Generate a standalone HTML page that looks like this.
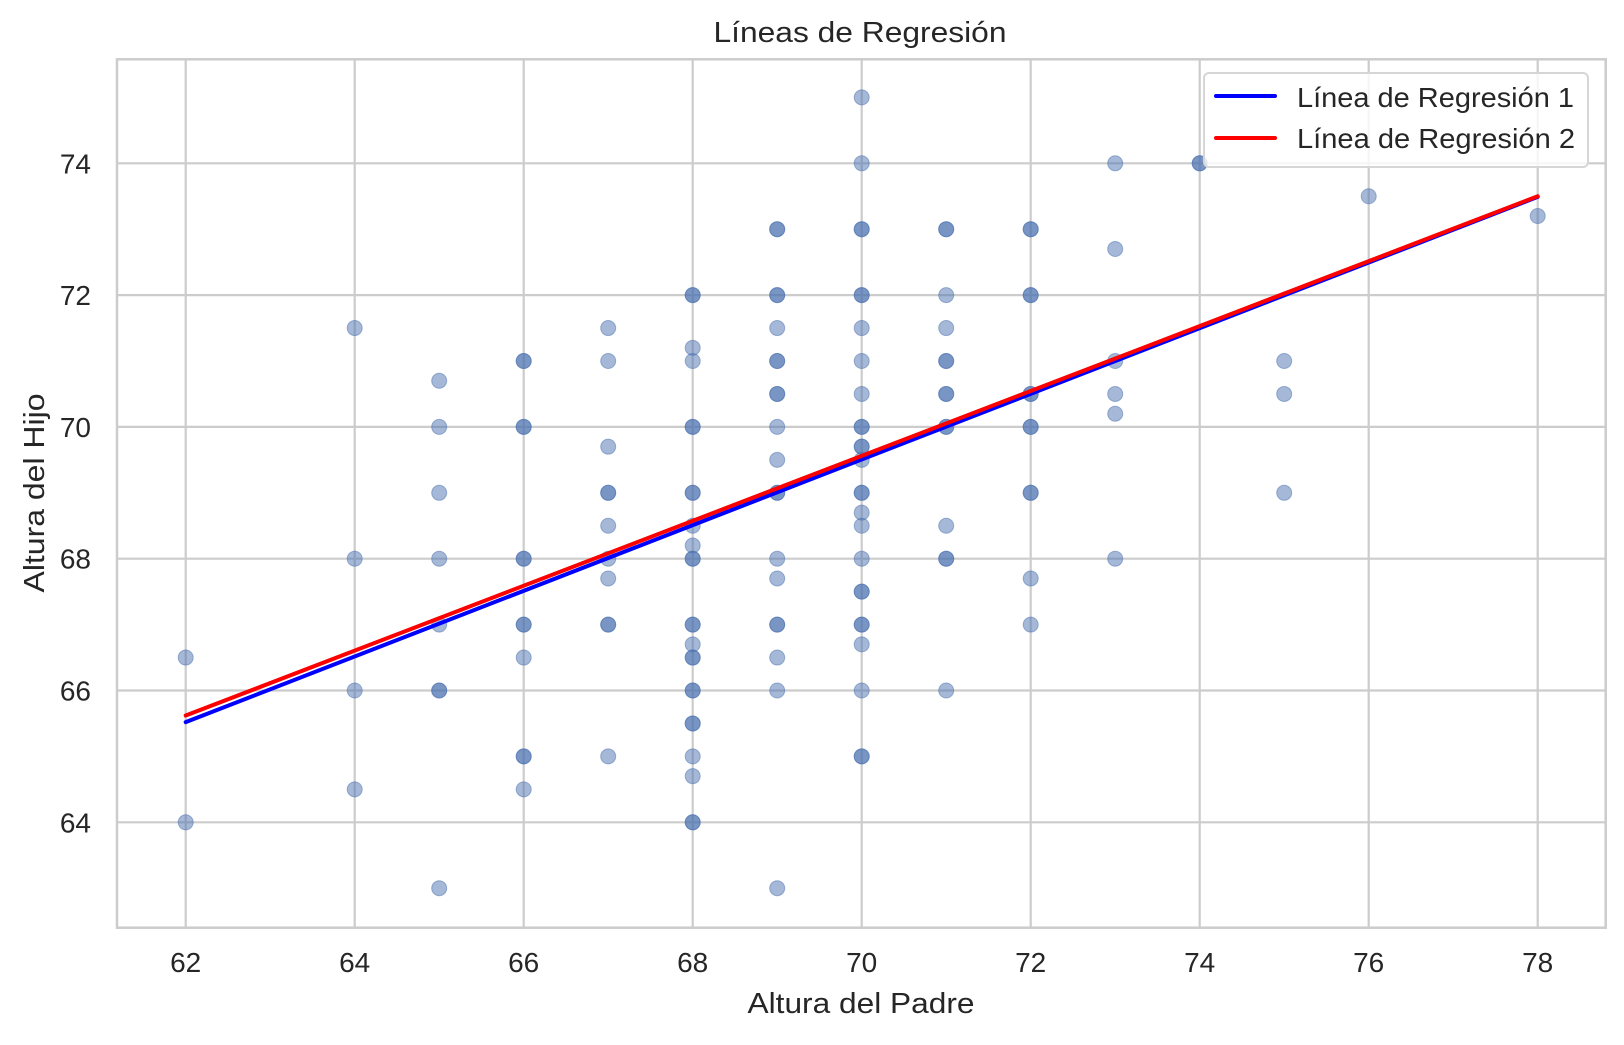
<!DOCTYPE html>
<html><head><meta charset="utf-8"><style>
body{margin:0;background:#fff;}
svg text{font-family:"Liberation Sans",sans-serif;fill:#262626;}
</style></head><body>
<svg id="chart" width="1624" height="1040" xmlns="http://www.w3.org/2000/svg">
<rect width="1624" height="1040" fill="#fff"/>
<g id="grid"></g>
<g id="points"></g>
<g id="lines"></g>
<rect x="117" y="59.3" width="1488.7" height="868.4" fill="none" stroke="#cccccc" stroke-width="2.5"/>
<g id="ticks"></g>
<text x="860" y="42" font-size="29" text-anchor="middle" textLength="293" lengthAdjust="spacingAndGlyphs">Líneas de Regresión</text>
<text x="861" y="1013" font-size="29" text-anchor="middle" textLength="227" lengthAdjust="spacingAndGlyphs">Altura del Padre</text>
<text transform="translate(44,493) rotate(-90)" font-size="29" text-anchor="middle" textLength="199" lengthAdjust="spacingAndGlyphs">Altura del Hijo</text>
<g>
<rect x="1204" y="73" width="384" height="94" rx="5" fill="#fff" fill-opacity="0.8" stroke="#d6d6d6" stroke-width="2"/>
<line x1="1216" y1="96" x2="1275" y2="96" stroke="#0000ff" stroke-width="4" stroke-linecap="round"/>
<text x="1297" y="107" font-size="28" textLength="277" lengthAdjust="spacingAndGlyphs">Línea de Regresión 1</text>
<line x1="1216" y1="138" x2="1275" y2="138" stroke="#ff0000" stroke-width="4" stroke-linecap="round"/>
<text x="1297" y="148" font-size="28" textLength="278" lengthAdjust="spacingAndGlyphs">Línea de Regresión 2</text>
</g>
</svg>
<script>
const xTicks=[62,64,66,68,70,72,74,76,78];
const yTicks=[64,66,68,70,72,74];
const fatherValues=[62,64,65,66,67,68,69,70,71,72,73,74,75,76,78];
const sonGroups=[
 [66.5,64],
 [71.5,68,66,64.5],
 [70.7,70,69,68,67,66,66,63],
 [71,71,70,70,68,68,67,67,66.5,65,65,64.5],
 [71.5,71,69.7,69,69,68.5,68,67.7,67,67,65],
 [72,72,71.2,71,70,70,69,69,68.5,68.2,68,68,67,67,66.7,66.5,66.5,66,66,65.5,65.5,65,64.7,64,64],
 [73,73,72,72,71.5,71,71,70.5,70.5,70,69.5,69,69,68,67.7,67,67,66.5,66,63],
 [75,74,73,73,72,72,71.5,71,70.5,70,70,69.7,69.7,69.5,69,69,68.7,68.5,68,67.5,67.5,67,67,66.7,66,65,65],
 [73,73,72,71.5,71,71,70.5,70.5,70,70,68.5,68,68,66],
 [73,73,72,72,70.5,70.5,70,70,69,69,67.7,67],
 [74,72.7,71,70.5,70.2,68],
 [74,74],
 [71,70.5,69],
 [73.5],
 [73.2]
];
const lineX=[62,78];
const line1Y=[65.52,73.49];
const line2Y=[65.62,73.50];
const lineColors=['#0000ff','#ff0000'];

const X=v=>185.7+(v-62)*84.5;
const Y=v=>822.3-(v-64)*65.9;
const NS='http://www.w3.org/2000/svg';
function mk(tag,attrs,parent){const e=document.createElementNS(NS,tag);for(const k in attrs)e.setAttribute(k,attrs[k]);parent.appendChild(e);return e;}
const grid=document.getElementById('grid'),ticks=document.getElementById('ticks');
xTicks.forEach(t=>{
  const l=mk('line',{x1:X(t),x2:X(t),y1:59.3,y2:927.7,stroke:'#cccccc','stroke-width':2.2},grid);
  
  
  const tx=mk('text',{x:X(t),y:972,'font-size':28,'text-anchor':'middle'},ticks);
  tx.textContent=t;
  
  
});
yTicks.forEach(t=>{
  const l=mk('line',{x1:117,x2:1605.7,y1:Y(t),y2:Y(t),stroke:'#cccccc','stroke-width':2.2},grid);
  
  
  const tx=mk('text',{x:91,y:Y(t)+10,'font-size':28,'text-anchor':'end'},ticks);
  tx.textContent=t;
  
  
});
const pts=document.getElementById('points');
fatherValues.forEach((fx,gi)=>{
  sonGroups[gi].forEach(sy=>{
    const c=mk('circle',{cx:X(fx),cy:Y(sy),r:7.5,fill:'#4c72b0','fill-opacity':0.5,stroke:'#4c72b0','stroke-opacity':0.5,'stroke-width':1},pts);
    
    
  });
});
const lg=document.getElementById('lines');
[line1Y,line2Y].forEach((ys,k)=>{
  const l=mk('line',{x1:X(lineX[0]),y1:Y(ys[0]),x2:X(lineX[1]),y2:Y(ys[1]),stroke:lineColors[k],'stroke-width':4,'stroke-linecap':'round'},lg);
  
  
});
</script>
</body></html>
